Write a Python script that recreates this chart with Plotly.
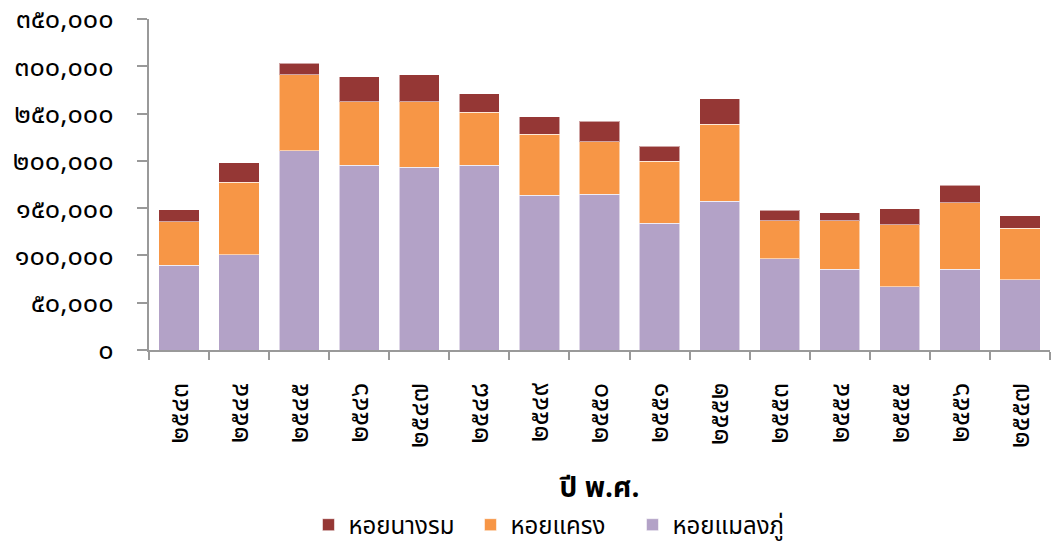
import plotly.graph_objects as go

years = ["๒๕๔๓", "๒๕๔๔", "๒๕๔๕", "๒๕๔๖", "๒๕๔๗", "๒๕๔๘", "๒๕๔๙", "๒๕๕๐",
         "๒๕๕๑", "๒๕๕๒", "๒๕๕๓", "๒๕๕๔", "๒๕๕๕", "๒๕๕๖", "๒๕๕๗"]
mussel = [89500, 100500, 210700, 195200, 193500, 195200, 163900, 164900,
          133900, 157500, 96300, 85300, 66700, 85300, 74100]
cockle = [45900, 77100, 80200, 67200, 68900, 56300, 64000, 55300,
          65900, 81400, 40400, 51400, 65500, 70500, 54900]
oyster = [12700, 20400, 12400, 26700, 28500, 19400, 18700, 21800,
          15800, 26700, 11300, 8200, 17200, 18600, 12700]

ytick_vals = [0, 50000, 100000, 150000, 200000, 250000, 300000, 350000]
ytick_text = ["๐", "๕๐,๐๐๐", "๑๐๐,๐๐๐", "๑๕๐,๐๐๐", "๒๐๐,๐๐๐",
              "๒๕๐,๐๐๐", "๓๐๐,๐๐๐", "๓๕๐,๐๐๐"]

FONT = "Tahoma, 'Noto Sans Thai', 'Noto Sans', 'DejaVu Sans', sans-serif"
line = dict(color="rgba(255,255,255,0.55)", width=1)

fig = go.Figure()
fig.add_trace(go.Bar(x=years, y=mussel, name="หอยแมลงภู่",
                     marker=dict(color="#B3A2C7", line=line)))
fig.add_trace(go.Bar(x=years, y=cockle, name="หอยแครง",
                     marker=dict(color="#F79646", line=line)))
fig.add_trace(go.Bar(x=years, y=oyster, name="หอยนางรม",
                     marker=dict(color="#953735", line=line)))

fig.update_layout(
    barmode="stack",
    bargap=0.33,
    width=1051, height=545,
    margin=dict(l=149, r=1, t=19, b=195, autoexpand=False),
    paper_bgcolor="white", plot_bgcolor="white",
    font=dict(family=FONT, size=17, color="#000000"),
    legend=dict(orientation="h", traceorder="reversed",
                x=0.177, xanchor="left", y=-0.461, yanchor="top",
                font=dict(size=24), entrywidth=117, itemwidth=30),
)
fig.update_xaxes(
    type="category", tickangle=-90, automargin=False,
    showline=True, linecolor="#999999", linewidth=2,
    ticks="outside", ticklen=8, tickcolor="#999999", tickwidth=2,
    tickson="boundaries", ticklabelstandoff=20,
    tickfont=dict(size=27),
    title=dict(text="<b>ปี พ.ศ.</b>", font=dict(size=28), standoff=30),
)
fig.update_yaxes(
    range=[0, 350000], tickvals=ytick_vals, ticktext=ytick_text,
    automargin=False, ticklabeloverflow="allow",
    showline=True, linecolor="#999999", linewidth=2,
    ticks="outside", ticklen=10, tickcolor="#999999", tickwidth=2,
    ticklabelstandoff=18,
    showgrid=False, zeroline=False,
    tickfont=dict(size=27),
)

fig.write_html("out.html",
               config={"displayModeBar": False},
               post_script="document.body.style.margin='0';")
